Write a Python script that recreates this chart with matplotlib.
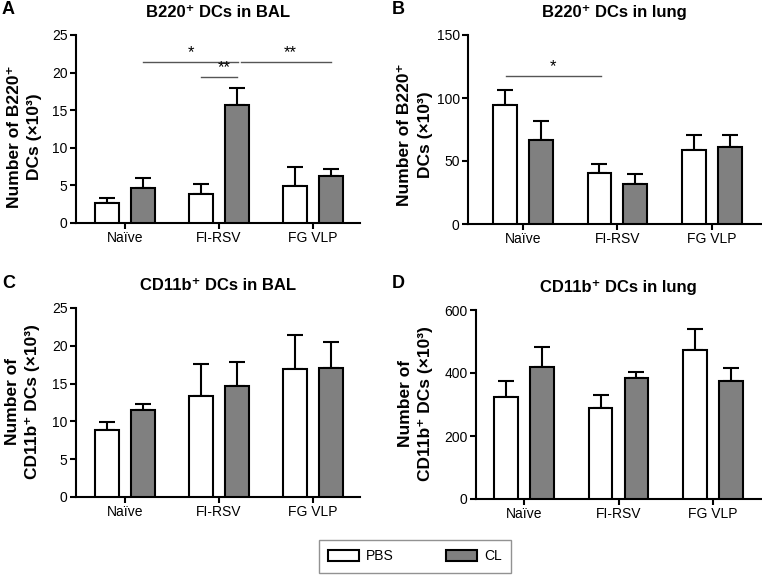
import matplotlib
matplotlib.use("Agg")
import matplotlib.pyplot as plt
import numpy as np
from matplotlib.patches import Patch

plt.rcParams['font.family'] = ['Liberation Sans', 'DejaVu Sans']

groups = ["Naïve", "FI-RSV", "FG VLP"]

# Panel A: B220+ DCs in BAL
a_pbs = [2.65, 3.85, 4.87]
a_pbs_top = [3.27, 5.18, 7.39]
a_cl = [4.6, 15.75, 6.24]
a_cl_top = [5.93, 17.9, 7.12]

# Panel B: B220+ DCs in lung
b_pbs = [94.1, 40.3, 59.0]
b_pbs_top = [106.0, 47.5, 70.9]
b_cl = [66.4, 31.6, 60.9]
b_cl_top = [81.7, 39.8, 70.4]

# Panel C: CD11b+ DCs in BAL
c_pbs = [8.9, 13.36, 16.93]
c_pbs_top = [9.92, 17.6, 21.4]
c_cl = [11.55, 14.73, 17.1]
c_cl_top = [12.35, 17.8, 20.5]

# Panel D: CD11b+ DCs in lung
d_pbs = [325, 289, 474]
d_pbs_top = [373.5, 329, 538.6]
d_cl = [419, 383, 374.6]
d_cl_top = [482.5, 403, 416]

W, H = 762, 575
fig = plt.figure(figsize=(W / 100, H / 100), dpi=100)


def px_axes(left, right, top, bottom):
    return fig.add_axes([left / W, (H - bottom) / H, (right - left) / W, (bottom - top) / H])


PBS_C = "white"
CL_C = "#808080"
off = 0.19
bw = 0.25


def panel(ax, pbs, pbs_top, cl, cl_top, ymax, step, xlim, title, ylabel, letter, letter_xy, lab_xy):
    x = np.arange(len(groups))
    for xs, vals, tops, col in [(x - off, pbs, pbs_top, PBS_C), (x + off, cl, cl_top, CL_C)]:
        vals = np.array(vals)
        tops = np.array(tops)
        ax.errorbar(xs, vals, yerr=[np.zeros_like(vals), tops - vals], fmt='none',
                    ecolor='black', elinewidth=1.5, capsize=6, capthick=1.5, zorder=2)
        ax.bar(xs, vals, width=bw, color=col, edgecolor='black', linewidth=1.5, zorder=3)
    ax.set_xlim(*xlim)
    ax.set_ylim(0, ymax)
    ax.set_yticks(np.arange(0, ymax + 1e-9, step))
    ax.set_xticks(x)
    ax.set_xticklabels(groups)
    for s in ['top', 'right']:
        ax.spines[s].set_visible(False)
    for s in ['left', 'bottom']:
        ax.spines[s].set_linewidth(1.5)
    ax.tick_params(axis='both', direction='out', length=4, width=1.5, labelsize=10, pad=2)
    ax.set_title(title, fontsize=12, fontweight='bold', pad=13)
    ax.set_ylabel(ylabel, fontsize=12.5, fontweight='bold', linespacing=1.45)
    ax.yaxis.set_label_coords(*lab_xy)
    fig.text(letter_xy[0] / W, 1 - letter_xy[1] / H, letter, fontsize=13, fontweight='bold',
             ha='left', va='center')


axA = px_axes(76, 360, 35, 223)
axB = px_axes(468, 761, 35, 224)
axC = px_axes(76, 360, 308, 497)
axD = px_axes(476, 761, 310, 499)

panel(axA, a_pbs, a_pbs_top, a_cl, a_cl_top, 25, 5, (-0.52, 2.5),
      "B220⁺ DCs in BAL", "Number of B220⁺\nDCs (×10³)", "A", (2, 10), (-0.12, 0.46))
panel(axB, b_pbs, b_pbs_top, b_cl, b_cl_top, 150, 50, (-0.58, 2.52),
      "B220⁺ DCs in lung", "Number of B220⁺\nDCs (×10³)", "B", (392, 10), (-0.12, 0.47))
panel(axC, c_pbs, c_pbs_top, c_cl, c_cl_top, 25, 5, (-0.52, 2.5),
      "CD11b⁺ DCs in BAL", "Number of\nCD11b⁺ DCs (×10³)", "C", (2, 284), (-0.127, 0.505))
panel(axD, d_pbs, d_pbs_top, d_cl, d_cl_top, 600, 200, (-0.51, 2.51),
      "CD11b⁺ DCs in lung", "Number of\nCD11b⁺ DCs (×10³)", "D", (392, 284), (-0.15, 0.505))

# significance annotations
sig_color = "#555555"


def sig(ax, x1, x2, y, label, xt, dy):
    ax.plot([x1, x2], [y, y], color=sig_color, lw=1, clip_on=False)
    ax.text(xt, y + dy, label, ha='center', va='bottom', fontsize=12)


sig(axA, 0.19, 1.2, 21.46, "*", 0.7, 0.2)
sig(axA, 1.23, 2.19, 21.46, "**", 1.76, 0.2)
sig(axA, 0.81, 1.19, 19.47, "**", 1.06, 0.2)
sig(axB, -0.18, 0.83, 117.8, "*", 0.32, 1.2)

handles = [Patch(facecolor=PBS_C, edgecolor='black', linewidth=1.5, label='PBS'),
           Patch(facecolor=CL_C, edgecolor='black', linewidth=1.5, label='CL')]
leg = fig.legend(handles=handles, ncol=2, loc='center', bbox_to_anchor=(415 / W, 1 - 556.5 / H),
                 frameon=True, fancybox=False, fontsize=10, handlelength=2.2, handleheight=0.9,
                 columnspacing=3.8, borderpad=0.65, handletextpad=0.5)
leg.get_frame().set_edgecolor('#777777')
leg.get_frame().set_linewidth(1)

fig.savefig("out.png", dpi=100)
